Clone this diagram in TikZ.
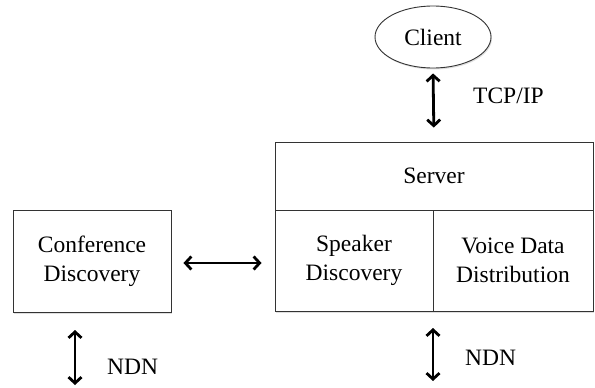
\documentclass[tikz,border=0pt]{standalone}
\usepackage{fontspec}
\setmainfont{Liberation Serif}
\usetikzlibrary{arrows.meta,shapes.geometric,shadows,positioning}
\begin{document}
\begin{tikzpicture}[x=1pt,y=-1pt,
  every node/.style={font=\fontsize{23.5}{29}\selectfont, text=black},
  box/.style={draw=black!80, line width=0.9pt, fill=white, align=center, inner sep=0pt,
    drop shadow={opacity=0.25, shadow xshift=1pt, shadow yshift=-1.5pt}},
  link/.style={line width=2.8pt, {Straight Barb[length=6pt,width=13pt]}-{Straight Barb[length=6pt,width=13pt]}},
  lbl/.style={anchor=west, inner sep=0pt}]
\useasboundingbox (0,0) rectangle (595,388);
\node[box, ellipse, minimum width=116pt, minimum height=62pt, text depth=-2pt] (client) at (433,37) {Client};
\node[box, rectangle, minimum width=318pt, minimum height=68pt] (server) at (434,176) {Server};
\node[box, rectangle, minimum width=158pt, minimum height=101pt] (speaker) at (354,260.5) {Speaker\\Discovery};
\node[box, rectangle, minimum width=160pt, minimum height=101pt] (voice) at (513,260.5) {Voice Data\\Distribution};
\node[box, rectangle, minimum width=158pt, minimum height=102pt] (conf) at (92,261) {Conference\\Discovery};
\coordinate (ndnA) at (433,381);
\coordinate (ndnB) at (75,385);
\coordinate (ndnAt) at (433,311);
\coordinate (ndnBt) at (75,312);
\draw[link, shorten <=5pt, shorten >=14pt] (client.south) -- (server.north);
\draw[link, shorten <=12pt, shorten >=13pt] (conf.east |- 0,263) -- (speaker.west |- 0,263);
\draw[link, shorten <=17pt] (ndnAt) -- (ndnA);
\draw[link, shorten <=18pt] (ndnBt) -- (ndnB);
\node[lbl] (tcp) at (473,96) {TCP/IP};
\node[lbl] (ndn1) at (465,358) {NDN};
\node[lbl] (ndn2) at (107,367) {NDN};
\end{tikzpicture}
\end{document}
